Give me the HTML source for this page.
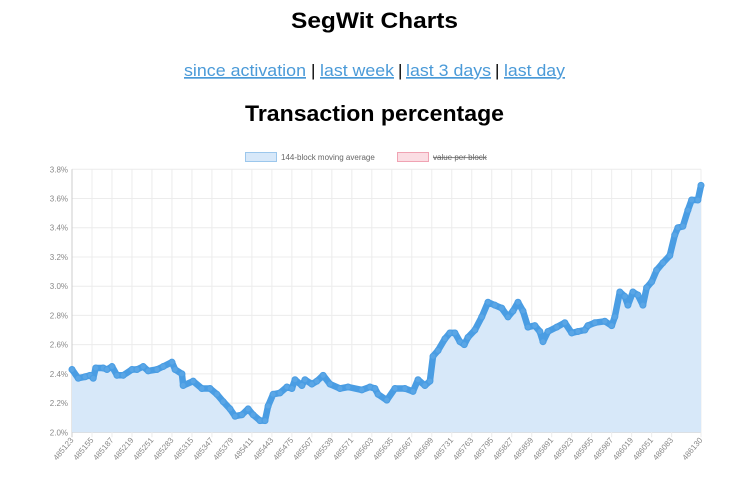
<!DOCTYPE html>
<html><head><meta charset="utf-8"><style>
html,body{margin:0;padding:0;background:#fff;width:750px;height:490px;overflow:hidden;font-family:"Liberation Sans",sans-serif}
svg{display:block}
a{cursor:pointer}
</style></head><body>
<svg id="chart" width="750" height="490">
<text x="374.5" y="28" text-anchor="middle" font-size="22" font-weight="bold" textLength="167" lengthAdjust="spacingAndGlyphs">SegWit Charts</text>
<g font-size="17" fill="#4a9ad8">
<text x="184" y="76" textLength="122" lengthAdjust="spacingAndGlyphs" text-decoration="underline">since activation</text>
<text x="311" y="76" fill="#000">|</text>
<text x="320" y="76" textLength="74" lengthAdjust="spacingAndGlyphs" text-decoration="underline">last week</text>
<text x="398" y="76" fill="#000">|</text>
<text x="406" y="76" textLength="85" lengthAdjust="spacingAndGlyphs" text-decoration="underline">last 3 days</text>
<text x="495" y="76" fill="#000">|</text>
<text x="504" y="76" textLength="61" lengthAdjust="spacingAndGlyphs" text-decoration="underline">last day</text>
</g>
<text x="374.5" y="121" text-anchor="middle" font-size="22" font-weight="bold" textLength="259" lengthAdjust="spacingAndGlyphs">Transaction percentage</text>
<g>
<rect x="245.5" y="152.5" width="31" height="9" fill="#d7e8f9" stroke="#9cc7ec"/>
<text x="281" y="160" font-size="8" fill="#666">144-block moving average</text>
<rect x="397.5" y="152.5" width="31" height="9" fill="#fbdde3" stroke="#f0a3b3"/>
<text x="433" y="160" font-size="8" fill="#666" text-decoration="line-through">value per block</text>
</g>
<g id="grid"></g><g id="area"></g><g id="line"></g><g id="axes"></g>
</svg>
<script>
const blocks=[485123,485133,485144,485152,485157,485161,485173,485179,485187,485195,485205,485219,485227,485237,485245,485259,485269,485283,485288,485299,485301,485317,485331,485344,485355,485365,485376,485384,485395,485405,485413,485424,485432,485437,485445,485456,485467,485475,485480,485491,485496,485507,485515,485525,485536,485552,485565,485587,485600,485608,485613,485627,485640,485656,485669,485677,485688,485696,485701,485709,485720,485728,485736,485744,485751,485757,485768,485779,485789,485800,485811,485821,485829,485837,485845,485853,485864,485872,485877,485885,485899,485912,485923,485933,485944,485949,485960,485976,485987,485992,486000,486008,486013,486021,486029,486037,486043,486051,486059,486069,486080,486088,486093,486101,486109,486115,486125,486130];
const values=[2.43,2.37,2.38,2.39,2.37,2.44,2.44,2.43,2.45,2.39,2.39,2.43,2.43,2.45,2.42,2.43,2.45,2.48,2.43,2.40,2.32,2.35,2.30,2.30,2.26,2.21,2.16,2.11,2.12,2.16,2.12,2.08,2.08,2.18,2.26,2.27,2.31,2.30,2.36,2.32,2.36,2.33,2.35,2.39,2.33,2.30,2.31,2.29,2.31,2.30,2.26,2.22,2.30,2.30,2.28,2.36,2.32,2.35,2.52,2.56,2.64,2.68,2.68,2.62,2.60,2.65,2.70,2.79,2.89,2.87,2.85,2.79,2.83,2.89,2.83,2.72,2.73,2.69,2.62,2.69,2.72,2.75,2.68,2.69,2.70,2.73,2.75,2.76,2.73,2.79,2.96,2.93,2.87,2.96,2.94,2.87,2.99,3.03,3.11,3.16,3.21,3.35,3.40,3.41,3.52,3.59,3.59,3.69];
const yTicks=[2.0,2.2,2.4,2.6,2.8,3.0,3.2,3.4,3.6,3.8];
const xTickLabels=[485123,485155,485187,485219,485251,485283,485315,485347,485379,485411,485443,485475,485507,485539,485571,485603,485635,485667,485699,485731,485763,485795,485827,485859,485891,485923,485955,485987,486019,486051,486083,486130];
const X0=72,X1=701,Y0=432.3,Y1=169.3,BMIN=485123,BMAX=486130,VMIN=2.0,VMAX=3.8;
const sx=b=>X0+(b-BMIN)/(BMAX-BMIN)*(X1-X0);
const sy=v=>Y0-(v-VMIN)/(VMAX-VMIN)*(Y0-Y1);
const NS='http://www.w3.org/2000/svg';
function mk(tag,attrs,parent){const e=document.createElementNS(NS,tag);for(const k in attrs)e.setAttribute(k,attrs[k]);document.getElementById(parent).appendChild(e);return e;}
yTicks.forEach(v=>{
 const l=mk('line',{x1:X0,x2:X1,y1:sy(v),y2:sy(v),stroke:v===VMIN?'#ccc':'#ececec','stroke-width':1},'grid');
 
 
 const t=mk('text',{x:X0-4,y:sy(v)+3,'text-anchor':'end','font-size':8,fill:'#888'},'axes');
 t.textContent=v.toFixed(1)+'%';
 
 
});
xTickLabels.forEach(b=>{
 const x=sx(b);
 const l=mk('line',{x1:x,x2:x,y1:Y1,y2:Y0+5,stroke:b===BMIN?'#ccc':'#ececec','stroke-width':1},'grid');
 
 
 const t=mk('text',{x:x+2,y:Y0+8,'text-anchor':'end','font-size':8,fill:'#888',transform:`rotate(-50 ${x+2} ${Y0+8})`},'axes');
 t.textContent=b;
 
 
});
let d='';blocks.forEach((b,i)=>{d+=(i?'L':'M')+sx(b).toFixed(1)+' '+sy(values[i]).toFixed(1);});
const a=mk('path',{d:d+`L${sx(blocks[blocks.length-1])} ${Y0}L${sx(blocks[0])} ${Y0}Z`,fill:'#d7e8f9'},'area');


const p=mk('path',{d:d,fill:'none',stroke:'#4a9de3','stroke-width':6.5,'stroke-linejoin':'round','stroke-linecap':'round'},'line');


blocks.forEach((b,i)=>{
 const c=mk('circle',{cx:sx(b),cy:sy(values[i]),r:3,fill:'#5aa6e6',stroke:'#4a9de3','stroke-width':1},'line');
 
 
});
</script>
</body></html>
